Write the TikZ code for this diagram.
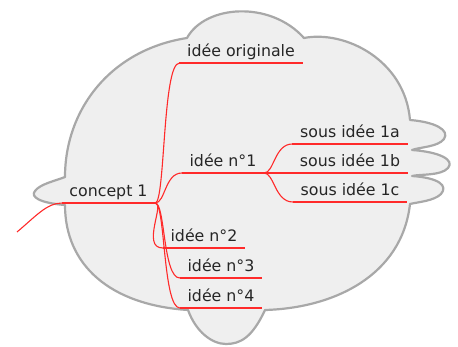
\documentclass[tikz,border=0pt]{standalone}
\usepackage{fontspec}
\setmainfont{DejaVu Sans}
\usepackage{tikz}

\definecolor{cloudfill}{HTML}{EFEFEF}
\definecolor{cloudline}{HTML}{A8A8A8}
\definecolor{linkred}{HTML}{FF2A2A}
\definecolor{topictext}{HTML}{262626}

\tikzset{
  topic/.style={anchor=south,inner xsep=7.5pt,inner ysep=6.5pt,text depth=0pt,
    text=topictext,font=\fontsize{15.8}{18}\selectfont},
  link/.style={draw=linkred,line width=1.1pt},
  cloud/.style={fill=cloudfill,draw=cloudline,line width=2.2pt,line join=round}
}

\begin{document}
\begin{tikzpicture}[x=1pt,y=-1pt]
\useasboundingbox (0,0) rectangle (458,347);
\filldraw[cloud] (65,177) .. controls (65,110) and (110,50) .. (187,38)
  .. controls (205,5) and (270,0) .. (304,38)
  .. controls (345,30) and (405,60) .. (410,120)
  .. controls (435,122) and (450,130) .. (444,139)
  .. controls (438,147) and (420,147) .. (412,150)
  .. controls (440,152) and (455,160) .. (448,168)
  .. controls (441,176) and (420,174) .. (412,176)
  .. controls (440,178) and (448,186) .. (441,194)
  .. controls (434,201) and (418,202) .. (410,204)
  .. controls (402,275) and (335,308) .. (265,310)
  .. controls (252,338) and (240,344) .. (226,344)
  .. controls (212,344) and (196,332) .. (188,310)
  .. controls (110,305) and (65,265) .. (65,205)
  .. controls (40,203) and (30,197) .. (35,191)
  .. controls (40,184) and (55,181) .. cycle;

\node[topic] (concept) at (108.5,203) {concept 1};
\node[topic] (orig) at (241,63) {idée originale};
\node[topic] (n1) at (223,173) {idée n°1};
\node[topic] (s1a) at (350,144) {sous idée 1a};
\node[topic] (s1b) at (350,173) {sous idée 1b};
\node[topic] (s1c) at (350,202) {sous idée 1c};
\node[topic] (n2) at (204,248) {idée n°2};
\node[topic] (n3) at (221,278) {idée n°3};
\node[topic] (n4) at (221,308) {idée n°4};
\coordinate (in) at (17,232);

\foreach \t in {concept,orig,n1,s1a,s1b,s1c,n2,n3,n4}
  \draw[link] (\t.south west) -- (\t.south east);

\draw[link] (in) .. controls +(18,-15) and +(-15,0) .. (concept.south west);
\draw[link] (concept.south east) .. controls +(10,0) and +(-17,0) .. (orig.south west);
\draw[link] (concept.south east) .. controls +(10,0) and +(-17,0) .. (n1.south west);
\draw[link] (concept.south east) .. controls +(10,0) and +(-22,0) .. (n2.south west);
\draw[link] (concept.south east) .. controls +(10,0) and +(-17,0) .. (n3.south west);
\draw[link] (concept.south east) .. controls +(10,0) and +(-17,0) .. (n4.south west);
\draw[link] (n1.south east) .. controls +(10,0) and +(-18,0) .. (s1a.south west);
\draw[link] (n1.south east) -- (s1b.south west);
\draw[link] (n1.south east) .. controls +(10,0) and +(-18,0) .. (s1c.south west);
\end{tikzpicture}
\end{document}
